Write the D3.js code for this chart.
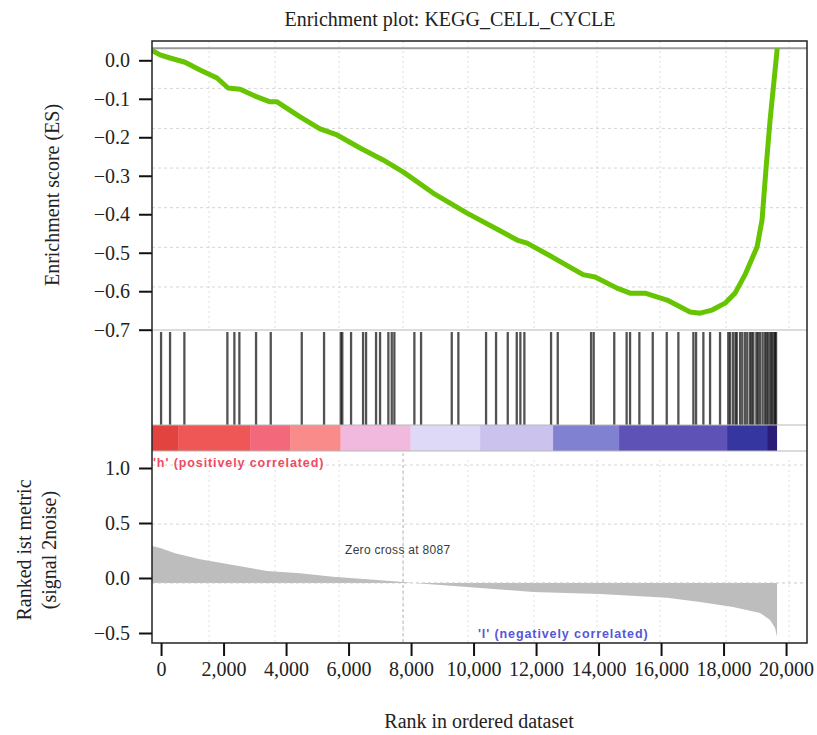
<!DOCTYPE html>
<html>
<head>
<meta charset="utf-8">
<script src="https://cdn.jsdelivr.net/npm/d3@7"></script>
<style>
  body { margin: 0; background: #fff; }
  text { font-family: "Liberation Serif", "Times New Roman", serif; fill: #222; }
  .note { font-family: "Liberation Sans", Arial, sans-serif; }
</style>
</head>
<body>
<div id="chart"></div>
<script>
// running enrichment score (rank, ES)
const esRank = [-288, -32, 288, 768, 1248, 1792, 2144, 2528, 3008, 3488, 3712, 4448, 5088, 5632, 6368, 7104, 7744,
  8704, 9792, 10848, 11392, 11712, 12448, 13504, 13888, 14592, 15008, 15488, 16192, 16928, 17248, 17632,
  18048, 18368, 18688, 19072, 19232, 19360, 19488, 19616, 19712, 19712];
const esValue = [0.026, 0.014, 0.006, -0.005, -0.025, -0.046, -0.072, -0.075, -0.093, -0.108, -0.108, -0.147, -0.178, -0.194, -0.228, -0.259, -0.29,
  -0.345, -0.397, -0.443, -0.467, -0.475, -0.508, -0.557, -0.563, -0.592, -0.605, -0.605, -0.623, -0.654, -0.657, -0.649,
  -0.631, -0.605, -0.557, -0.485, -0.415, -0.28, -0.156, -0.052, 0.026, 0.031];

// ranked list metric (signal 2noise)
const metricRank = [-288, 0, 448, 1248, 2304, 3392, 4448, 5504, 6592, 7648, 8087, 9792, 11904, 14048, 16192, 17248, 18304, 19168, 19488, 19648, 19712];
const metricValue = [0.29, 0.27, 0.225, 0.17, 0.118, 0.064, 0.043, 0.012, -0.012, -0.034, -0.045, -0.082, -0.127, -0.145, -0.18, -0.218, -0.264, -0.318, -0.382, -0.455, -0.536];
const metricBase = -0.045;
const zeroCross = 8087;
const zeroCrossMark = 7744;

// gene set hits (rank positions)
const hitRanks = [0, 288, 746, 2122, 2346, 2506, 3040, 3510, 4502, 5216, 5750, 5800, 6080, 6464,
  6560, 6880, 7008, 7274, 7382, 7466, 8106, 8320, 9302, 9514, 10400, 10720, 11094, 11382, 11498, 11626, 12480, 12694,
  13760, 13844, 14502, 14898, 15008, 15306, 15734, 16182, 16554, 17034, 17120, 17354, 17568, 17888,
  18150, 18208, 18300, 18380, 18422, 18528, 18600, 18688, 18760, 18848, 18900, 18954, 19050, 19100, 19168,
  19250, 19328, 19380, 19434, 19500, 19542, 19600, 19648, 19680];

// colour bar of the ranked list
const barBreaks = [-288, 544, 2848, 4128, 5750, 7990, 10208, 12544, 14656, 18112, 19392, 19712];
const barColors = ["#e3433f", "#ef5757", "#f4687c", "#f98b8b", "#f2b9de", "#ddd9f6", "#cbc3ee", "#8181d2", "#5e52b7", "#3636a0", "#2b1c78"];

const xTicks = [0, 2000, 4000, 6000, 8000, 10000, 12000, 14000, 16000, 18000, 20000];
const esTicks = [0, -0.1, -0.2, -0.3, -0.4, -0.5, -0.6, -0.7];
const metricTicks = [1, 0.5, 0, -0.5];
const esGrid = [-0.073, -0.177, -0.28, -0.383, -0.486, -0.589];
const esTopLine = 0.031;
const metricGrid = [1.027, 0.49];
const rankGrid = [1536, 3648, 5696, 7744, 9824, 11936, 13952, 15968, 18080, 20096];

const width = 817, height = 735;
const frame = { left: 152, right: 807, top: 41, bottom: 643 };
const hitBox = { top: 332, bottom: 425 };
const barBox = { top: 425, bottom: 451 };

const svg = d3.select("#chart")
    .append("svg")
    .attr("width", width)
    .attr("height", height);

const xScale = d3.scaleLinear().domain([-290, 20670]).range([frame.left, frame.right]);
const yES = d3.scaleLinear().domain([0, -0.7]).range([60.3, 329.7]);
const yMetric = d3.scaleLinear().domain([1, -0.5]).range([468, 633]);

svg.append("clipPath").attr("id", "clip")
    .append("rect")
    .attr("x", frame.left).attr("y", frame.top)
    .attr("width", frame.right - frame.left).attr("height", frame.bottom - frame.top);

const plot = svg.append("g").attr("clip-path", "url(#clip)");

// dotted grid of the enrichment panel
plot.selectAll(".vgridTop").data(rankGrid).enter().append("line")
    .attr("x1", d => xScale(d)).attr("x2", d => xScale(d))
    .attr("y1", frame.top).attr("y2", 330)
    .attr("stroke", "#dcdcdc").attr("stroke-dasharray", "2,3");
plot.selectAll(".hgridTop").data(esGrid).enter().append("line")
    .attr("x1", frame.left).attr("x2", frame.right)
    .attr("y1", d => yES(d)).attr("y2", d => yES(d))
    .attr("stroke", "#d6d6d6").attr("stroke-dasharray", "3,3");
plot.append("line")
    .attr("x1", frame.left).attr("x2", frame.right)
    .attr("y1", yES(esTopLine)).attr("y2", yES(esTopLine))
    .attr("stroke", "#9a9a9a").attr("stroke-width", 2);

// dotted grid of the metric panel
plot.selectAll(".vgridBot").data(rankGrid).enter().append("line")
    .attr("x1", d => xScale(d)).attr("x2", d => xScale(d))
    .attr("y1", 460).attr("y2", frame.bottom)
    .attr("stroke", "#e0e0e0").attr("stroke-dasharray", "2,3");
plot.selectAll(".hgridBot").data(metricGrid).enter().append("line")
    .attr("x1", frame.left).attr("x2", frame.right)
    .attr("y1", d => yMetric(d)).attr("y2", d => yMetric(d))
    .attr("stroke", "#d6d6d6").attr("stroke-dasharray", "3,3");

// metric area
const metricData = metricRank.map((r, i) => ({ r: r, v: metricValue[i] }));
plot.append("path")
    .datum(metricData)
    .attr("fill", "#bdbdbd")
    .attr("d", d3.area().x(d => xScale(d.r)).y0(yMetric(metricBase)).y1(d => yMetric(d.v)));
plot.append("line")
    .attr("x1", frame.left).attr("x2", frame.right)
    .attr("y1", yMetric(metricBase)).attr("y2", yMetric(metricBase))
    .attr("stroke", "#c8c8c8").attr("stroke-dasharray", "3,3");

// zero cross marker
plot.append("line")
    .attr("x1", xScale(zeroCrossMark)).attr("x2", xScale(zeroCrossMark))
    .attr("y1", barBox.bottom + 2).attr("y2", frame.bottom)
    .attr("stroke", "#b5b5b5").attr("stroke-dasharray", "3,3");

// hits
plot.selectAll(".hit").data(hitRanks).enter().append("line")
    .attr("x1", d => xScale(d)).attr("x2", d => xScale(d))
    .attr("y1", hitBox.top).attr("y2", hitBox.bottom)
    .attr("stroke", "#000").attr("stroke-opacity", 0.68).attr("stroke-width", 2.3);

// colour bar
plot.selectAll(".seg").data(barColors).enter().append("rect")
    .attr("x", (d, i) => xScale(barBreaks[i]))
    .attr("width", (d, i) => xScale(barBreaks[i + 1]) - xScale(barBreaks[i]))
    .attr("y", barBox.top).attr("height", barBox.bottom - barBox.top)
    .attr("fill", d => d);

// panel separators
plot.selectAll(".sep").data([330, barBox.top, barBox.bottom]).enter().append("line")
    .attr("x1", frame.left).attr("x2", frame.right)
    .attr("y1", d => d).attr("y2", d => d)
    .attr("stroke", "#b8b8b8");

// enrichment score curve
const esData = esRank.map((r, i) => ({ r: r, v: esValue[i] }));
plot.append("path")
    .datum(esData)
    .attr("fill", "none")
    .attr("stroke", "#66c400")
    .attr("stroke-width", 5)
    .attr("stroke-linejoin", "round")
    .attr("d", d3.line().x(d => xScale(d.r)).y(d => yES(d.v)));

// notes
svg.append("text").attr("class", "note")
    .attr("x", 153).attr("y", 467)
    .attr("font-size", 12.5).attr("font-weight", "bold").attr("letter-spacing", 0.9)
    .style("fill", "#f04a62")
    .text("'h' (positively correlated)");
svg.append("text").attr("class", "note")
    .attr("x", 478).attr("y", 638)
    .attr("font-size", 12.5).attr("font-weight", "bold").attr("letter-spacing", 0.9)
    .style("fill", "#5656d8")
    .text("'l' (negatively correlated)");
svg.append("text").attr("class", "note")
    .attr("x", 345).attr("y", 554)
    .attr("font-size", 12).attr("letter-spacing", 0.3)
    .style("fill", "#3a3a3a")
    .text("Zero cross at " + zeroCross);

// frame
svg.append("rect")
    .attr("x", frame.left).attr("y", frame.top)
    .attr("width", frame.right - frame.left).attr("height", frame.bottom - frame.top)
    .attr("fill", "none").attr("stroke", "#222").attr("stroke-width", 1.5);

// axes
const esAxis = svg.append("g")
    .attr("transform", `translate(${frame.left},0)`)
    .call(d3.axisLeft(yES).tickValues(esTicks).tickSize(13).tickPadding(9).tickFormat(d3.format(".1f")));
const metricAxis = svg.append("g")
    .attr("transform", `translate(${frame.left},0)`)
    .call(d3.axisLeft(yMetric).tickValues(metricTicks).tickSize(13).tickPadding(9).tickFormat(d3.format(".1f")));
const xAxis = svg.append("g")
    .attr("transform", `translate(0,${frame.bottom})`)
    .call(d3.axisBottom(xScale).tickValues(xTicks).tickSize(13).tickPadding(6).tickFormat(d3.format(",")));

[esAxis, metricAxis, xAxis].forEach(a => {
    a.select(".domain").remove();
    a.selectAll(".tick line").attr("stroke", "#111").attr("stroke-width", 2);
    a.selectAll(".tick text").attr("font-size", 20).attr("font-family", "Liberation Serif, serif").style("fill", "#222");
});

// titles
svg.append("text")
    .attr("x", 450).attr("y", 26)
    .attr("text-anchor", "middle").attr("font-size", 20)
    .text("Enrichment plot: KEGG_CELL_CYCLE");

svg.append("text")
    .attr("x", 479).attr("y", 728)
    .attr("text-anchor", "middle").attr("font-size", 20)
    .text("Rank in ordered dataset");

svg.append("text")
    .attr("transform", "translate(59,195) rotate(-90)")
    .attr("text-anchor", "middle").attr("font-size", 20)
    .text("Enrichment score (ES)");

const metricLabel = svg.append("text")
    .attr("transform", "translate(31,550) rotate(-90)")
    .attr("text-anchor", "middle").attr("font-size", 20);
metricLabel.append("tspan").attr("x", 0).attr("dy", 0).text("Ranked ist metric");
metricLabel.append("tspan").attr("x", 0).attr("dy", 25).text("(signal 2noise)");
</script>
</body>
</html>
